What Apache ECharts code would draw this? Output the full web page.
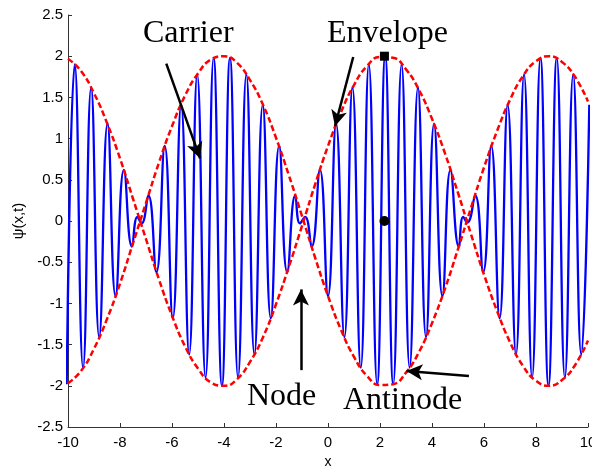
<!DOCTYPE html>
<html><head><meta charset="utf-8">
<script src="https://cdn.jsdelivr.net/npm/echarts@6/dist/echarts.min.js"></script>
<style>html,body{margin:0;padding:0;background:#fff}#c{width:592px;height:470px}</style>
</head><body><div id="c"></div>
<script>
// ---- data ----
var carrierX = [-10.05,-9.74,-9.42,-9.11,-8.80,-8.48,-8.17,-7.85,-7.54,-7.33,-7.17,-6.91,-6.60,-6.28,-5.97,-5.65,-5.34,-5.03,-4.71,-4.40,-4.08,-3.77,-3.46,-3.14,-2.83,-2.51,-2.20,-1.88,-1.57,-1.26,-1.08,-0.88,-0.63,-0.31,0.00,0.31,0.63,0.94,1.26,1.57,1.89,2.20,2.51,2.83,3.14,3.46,3.77,4.08,4.40,4.71,5.03,5.20,5.36,5.66,5.97,6.28,6.60,6.91,7.23,7.54,7.85,8.17,8.48,8.80,9.11,9.43,9.74,10.05];
var carrierY = [-1.98,1.90,-1.78,1.62,-1.41,1.18,-0.91,0.62,-0.31,0.05,-0.03,0.31,-0.62,0.91,-1.18,1.41,-1.62,1.78,-1.90,1.98,-2.00,1.98,-1.90,1.78,-1.62,1.41,-1.18,0.91,-0.62,0.31,-0.03,0.05,-0.31,0.62,-0.91,1.18,-1.41,1.62,-1.78,1.90,-1.98,2.00,-1.98,1.90,-1.78,1.62,-1.41,1.18,-0.91,0.62,-0.31,0.05,-0.02,0.31,-0.62,0.91,-1.18,1.41,-1.62,1.78,-1.90,1.98,-2.00,1.98,-1.90,1.78,-1.62,1.41];
var envX = [-10,-9.5,-9,-8.5,-8,-7.5,-7,-6.5,-6,-5.5,-5,-4.5,-4,-3.5,-3,-2.5,-2,-1.5,-1,-0.5,0,0.5,1,1.5,2,2.5,3,3.5,4,4.5,5,5.5,6,6.5,7,7.5,8,8.5,9,9.5,10];
var envA = [1.97,1.82,1.55,1.19,0.76,0.27,-0.22,-0.71,-1.15,-1.52,-1.79,-1.96,-2.00,-1.92,-1.71,-1.41,-1.01,-0.55,-0.06,0.44,0.91,1.32,1.65,1.88,1.99,1.98,1.84,1.59,1.24,0.82,0.34,-0.16,-0.65,-1.09,-1.47,-1.76,-1.94,-2.00,-1.93,-1.75,-1.45];
var envB = [-1.97,-1.82,-1.55,-1.19,-0.76,-0.27,0.22,0.71,1.15,1.52,1.79,1.96,2.00,1.92,1.71,1.41,1.01,0.55,0.06,-0.44,-0.91,-1.32,-1.65,-1.88,-1.99,-1.98,-1.84,-1.59,-1.24,-0.82,-0.34,0.16,0.65,1.09,1.47,1.76,1.94,2.00,1.93,1.75,1.45];
var squarePoint = [2.17, 2.0];
var dotPoint = [2.17, 0.0];
var xTicks = {min: -10, max: 10, interval: 2};
var yTicks = {min: -2.5, max: 2.5, interval: 0.5};
// annotation arrows in data units: [tail, tip]
var arrows = [
  [[-6.22, 1.91], [-4.92, 0.76]],
  [[0.97, 1.99], [0.27, 1.15]],
  [[-1.04, -1.81], [-1.04, -0.83]],
  [[5.42, -1.88], [3.02, -1.82]]
];
var labels = ['Carrier', 'Envelope', 'Node', 'Antinode'];

function zip(a, b) { return a.map(function (v, i) { return [v, b[i]]; }); }

var chart = echarts.init(document.getElementById('c'), null, {renderer: 'canvas'});
var axisFont = {fontFamily: '"Liberation Sans", Arial, sans-serif', fontSize: 15, color: '#000'};
var nameFont = {fontFamily: '"Liberation Sans", Arial, sans-serif', fontSize: 14, color: '#000'};
var yNameFont = {fontFamily: '"Liberation Sans", Arial, sans-serif', fontSize: 15, color: '#000'};
var serif = '32px "Liberation Serif", "Times New Roman", serif';

chart.setOption({
  animation: false,
  backgroundColor: '#fff',
  grid: {left: 68, right: 4, top: 15, bottom: 43, containLabel: false, outerBoundsMode: 'none'},
  xAxis: {
    type: 'value', min: xTicks.min, max: xTicks.max, interval: xTicks.interval,
    name: 'x', nameLocation: 'middle', nameGap: 27,
    nameTextStyle: nameFont,
    axisLine: {show: true, onZero: false, lineStyle: {color: '#333', width: 1}},
    axisTick: {show: true, inside: true, length: 4, lineStyle: {color: '#333'}},
    axisLabel: Object.assign({margin: 8, hideOverlap: false}, axisFont),
    splitLine: {show: false}
  },
  yAxis: {
    type: 'value', min: yTicks.min, max: yTicks.max, interval: yTicks.interval,
    name: 'ψ(x,t)', nameLocation: 'middle', nameGap: 37, nameRotate: 90,
    nameTextStyle: yNameFont,
    axisLine: {show: true, onZero: false, lineStyle: {color: '#333', width: 1}},
    axisTick: {show: true, inside: true, length: 4, lineStyle: {color: '#333'}},
    axisLabel: Object.assign({margin: 5}, axisFont),
    splitLine: {show: false}
  },
  series: [
    {
      type: 'line', data: zip(carrierX, carrierY), smooth: 0.5, symbol: 'none',
      lineStyle: {color: '#0000ff', width: 2.3}, z: 2
    },
    {
      type: 'line', data: zip(envX, envA), smooth: true, symbol: 'none',
      lineStyle: {color: '#ff0000', width: 2.5, type: [6, 3]}, z: 3
    },
    {
      type: 'line', data: zip(envX, envB), smooth: true, symbol: 'none',
      lineStyle: {color: '#ff0000', width: 2.5, type: [6, 3]}, z: 3
    },
    {
      type: 'scatter', data: [squarePoint], symbol: 'rect', symbolSize: 9,
      itemStyle: {color: '#000', opacity: 1}, z: 5
    },
    {
      type: 'scatter', data: [dotPoint], symbol: 'circle', symbolSize: 10,
      itemStyle: {color: '#000', opacity: 1}, z: 5,
      markLine: {
        silent: true, animation: false,
        symbol: ['none', 'arrow'], symbolSize: [12, 16],
        label: {show: false},
        lineStyle: {color: '#000', width: 2.5, type: 'solid', opacity: 1},
        data: arrows.map(function (a) { return [{coord: a[0]}, {coord: a[1]}]; })
      }
    }
  ],
  graphic: [
    {type: 'text', left: 143, top: 18, style: {text: labels[0], font: serif, fill: '#000'}},
    {type: 'text', left: 327, top: 18, style: {text: labels[1], font: serif, fill: '#000'}},
    {type: 'text', left: 247, top: 381, style: {text: labels[2], font: serif, fill: '#000'}},
    {type: 'text', left: 343, top: 385, style: {text: labels[3], font: serif, fill: '#000'}}
  ]
});
</script></body></html>
